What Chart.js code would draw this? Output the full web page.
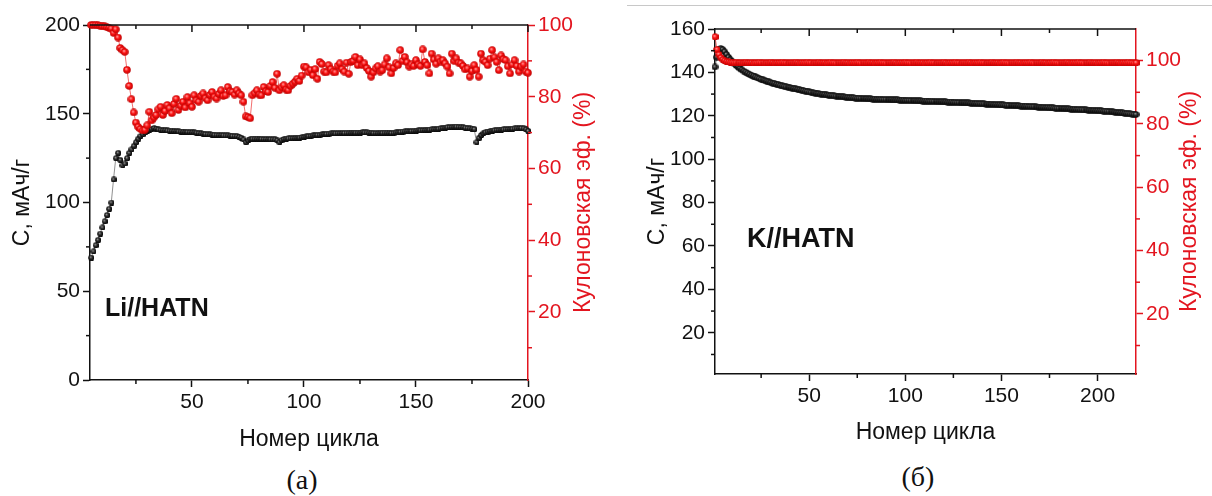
<!DOCTYPE html>
<html><head><meta charset="utf-8">
<script src="https://cdn.jsdelivr.net/npm/chart.js@4"></script>
<style>
html,body{margin:0;padding:0;background:#fff;width:1212px;height:496px;overflow:hidden;position:relative;font-family:'Liberation Sans',Arial,sans-serif}
canvas{position:absolute;top:0}
#cA{left:0}
#cB{left:610px}
.lbl{position:absolute;font-weight:bold;color:#111;white-space:nowrap;line-height:1}
.cap{position:absolute;font-family:'Liberation Serif','Times New Roman',serif;font-size:28px;color:#111;transform:translate(-50%,-50%);line-height:1;white-space:nowrap}
</style></head><body>
<div style="position:absolute;left:627px;top:5px;width:585px;height:1px;background:#c8c8c8"></div>
<canvas id="cA" width="610" height="460"></canvas>
<canvas id="cB" width="602" height="460"></canvas>
<div class="lbl" style="left:105px;top:295px;font-size:25px">Li//HATN</div>
<div class="lbl" style="left:747px;top:225px;font-size:27px">K//HATN</div>
<div class="cap" style="left:302px;top:480px">(а)</div>
<div class="cap" style="left:918px;top:477px">(б)</div>
<script>
// ---------- DATA ----------
// Panel (a) Li//HATN : first cycle shown
const LI_FIRST_CYCLE = 5;
// capacity, mAh/g, cycles 5..200
const LI_CAPACITY = [
 69, 72.5, 76, 79, 82.5, 86, 89.5, 93, 96.5, 100,
 113, 125, 128, 124, 121, 122, 125, 128, 130, 132,
 134, 136, 137.5, 138.5, 139.5, 140.5, 141, 141.5, 142, 141.6,
 141.2, 141, 140.8, 140.8, 140.6, 140.5, 140.4, 140.3, 140.2, 140.1,
 140, 139.9, 139.8, 139.8, 139.7, 139.6, 139.5, 139.4, 139.2, 139,
 138.8, 138.6, 138.5, 138.4, 138.3, 138.2, 138.1, 138, 138, 137.9,
 137.8, 137.8, 137.7, 137.6, 137.5, 137.4, 137, 136.5, 135.5, 134,
 135, 135.8, 136, 136, 136, 135.9, 135.9, 135.8, 135.8, 135.7,
 135.7, 135.6, 135.5, 135, 134, 135.2, 135.8, 136, 136.1, 136.2,
 136.3, 136.4, 136.5, 136.6, 136.8, 137, 137.2, 137.4, 137.6, 137.8,
 138, 138.1, 138.2, 138.4, 138.6, 138.7, 138.8, 138.9, 139, 139,
 139.1, 139.1, 139.2, 139.2, 139.3, 139.3, 139.3, 139.4, 139.4, 139.4,
 139.4, 139.5, 139.5, 139.5, 139.4, 139.3, 139.2, 139.2, 139.2, 139.3,
 139.3, 139.4, 139.4, 139.3, 139.2, 139.3, 139.5, 139.6, 139.8, 140,
 140.1, 140.2, 140.2, 140.3, 140.4, 140.5, 140.6, 140.7, 140.8, 140.9,
 141, 141.1, 141.2, 141.3, 141.4, 141.6, 141.8, 142, 142.2, 142.4,
 142.5, 142.6, 142.7, 142.8, 142.7, 142.6, 142.4, 142.2, 142, 141.8,
 141.6, 141.4, 134, 136.5, 138, 139, 139.6, 140, 140.3, 140.5,
 140.7, 140.9, 141, 141.1, 141.2, 141.3, 141.4, 141.5, 141.6, 141.7,
 141.8, 141.9, 142, 141.8, 141.2, 140.4
];
// coulombic efficiency, %, cycles 5..200
const LI_CE = [
 100, 100, 100, 99.9, 99.8, 99.7, 99.6, 99.4, 99.2, 99.0,
 97.8, 98.8, 96.5, 93.6, 93.0, 92.5, 87.5, 83.0, 79.3, 75.6,
 72.8, 71.6, 71.0, 70.6, 70.8, 72.0, 75.8, 73.4, 74.2, 74.9,
 76.5, 77.2, 74.9, 76.0, 77.7, 76.8, 75.4, 78.0, 79.4, 76.3,
 77.5, 78.6, 77.0, 79.9, 78.2, 77.2, 80.4, 79.0, 78.6, 80.2,
 80.9, 79.6, 79.0, 80.5, 81.3, 80.0, 79.5, 80.8, 81.8, 80.2,
 80.4, 82.7, 81.5, 81.3, 80.6, 81.8, 80.9, 80.4, 78.6, 74.5,
 74.3, 74.0, 80.4, 81.0, 81.8, 80.6, 80.4, 82.7, 81.5, 81.3,
 83.0, 84.1, 82.5, 86.4, 81.8, 82.6, 83.2, 82.0, 81.8, 83.0,
 83.6, 84.2, 85.0, 84.4, 85.9, 88.4, 88.2, 86.8, 87.5, 86.0,
 87.7, 85.0, 89.7, 89.1, 87.0, 86.8, 88.8, 87.7, 87.0, 86.8,
 88.6, 89.3, 87.7, 87.0, 89.5, 86.4, 89.7, 90.0, 91.1, 88.8,
 90.4, 88.8, 89.3, 88.0, 87.2, 85.6, 86.8, 87.9, 88.5, 87.0,
 87.4, 89.0, 90.7, 88.2, 86.5, 88.0, 89.3, 88.8, 93.0, 90.0,
 91.1, 89.6, 88.4, 89.0, 88.6, 90.2, 89.0, 88.6, 93.2, 89.7,
 88.8, 86.5, 92.0, 90.4, 89.2, 90.7, 89.8, 90.2, 89.3, 88.4,
 86.5, 92.0, 90.0, 90.7, 89.5, 89.3, 88.6, 87.6, 87.9, 85.6,
 87.2, 88.8, 87.5, 85.6, 92.0, 90.2, 89.7, 88.8, 90.6, 93.0,
 91.0, 89.7, 87.4, 91.5, 90.5, 90.2, 88.5, 86.5, 89.0, 90.2,
 88.6, 87.0, 88.4, 89.0, 87.0, 86.7
];
const LI_X_TICKS = [50, 100, 150, 200];
const LI_X_MINOR = [25, 75, 125, 175];
const LI_Y_TICKS = [0, 50, 100, 150, 200];
const LI_Y_MINOR = [25, 75, 125, 175];
const LI_Y1_TICKS = [20, 40, 60, 80, 100];
const LI_Y1_MINOR = [10, 30, 50, 70, 90];

// Panel (b) K//HATN
const K_FIRST_CYCLE = 1;
// capacity, mAh/g, cycles 1..220
const K_CAPACITY = [
 142.5, 147, 150.5, 151, 150.5, 149.5, 148.2, 147, 145.8, 144.8,
 144, 143.2, 142.5, 141.8, 141.2, 140.6, 140.1, 139.6, 139.1, 138.7,
 138.3, 137.9, 137.5, 137.2, 136.8, 136.5, 136.2, 135.9, 135.6, 135.3,
 135, 134.8, 134.5, 134.3, 134, 133.8, 133.6, 133.4, 133.2, 133,
 132.8, 132.6, 132.4, 132.2, 132, 131.8, 131.6, 131.4, 131.2, 131,
 130.8, 130.6, 130.5, 130.3, 130.2, 130, 129.9, 129.8, 129.6, 129.5,
 129.4, 129.3, 129.2, 129.1, 129, 128.9, 128.8, 128.7, 128.6, 128.5,
 128.4, 128.3, 128.3, 128.2, 128.1, 128.1, 128, 128, 127.9, 127.9,
 127.8, 127.8, 127.7, 127.7, 127.6, 127.6, 127.6, 127.5, 127.5, 127.5,
 127.4, 127.4, 127.4, 127.3, 127.3, 127.3, 127.2, 127.2, 127.2, 127.1,
 127.1, 127.1, 127, 127, 127, 126.9, 126.9, 126.9, 126.8, 126.8,
 126.8, 126.7, 126.7, 126.7, 126.6, 126.6, 126.5, 126.5, 126.5, 126.4,
 126.4, 126.3, 126.3, 126.3, 126.2, 126.2, 126.1, 126.1, 126, 126,
 126, 125.9, 125.9, 125.8, 125.8, 125.7, 125.7, 125.6, 125.6, 125.5,
 125.5, 125.4, 125.4, 125.3, 125.3, 125.2, 125.2, 125.1, 125.1, 125,
 125, 124.9, 124.9, 124.8, 124.8, 124.7, 124.7, 124.6, 124.6, 124.5,
 124.5, 124.4, 124.4, 124.3, 124.3, 124.2, 124.2, 124.1, 124, 124,
 123.9, 123.9, 123.8, 123.8, 123.7, 123.7, 123.6, 123.5, 123.5, 123.4,
 123.4, 123.3, 123.3, 123.2, 123.2, 123.1, 123, 123, 122.9, 122.9,
 122.8, 122.8, 122.7, 122.7, 122.6, 122.6, 122.5, 122.5, 122.4, 122.4,
 122.3, 122.3, 122.2, 122.2, 122.1, 122, 121.9, 121.8, 121.7, 121.6,
 121.5, 121.4, 121.3, 121.2, 121.1, 121, 120.9, 120.8, 120.7, 120.6
];
// coulombic efficiency, %, cycles 1..220
const K_CE = [
 107.6, 103.6, 102.0, 101.0, 100.4, 100.0, 99.7, 99.6, 99.5, 99.5,
 99.4, 99.5, 99.4, 99.4, 99.3, 99.4, 99.5, 99.4, 99.4, 99.4,
 99.3, 99.4, 99.4, 99.5, 99.4, 99.4, 99.3, 99.4, 99.4, 99.5,
 99.4, 99.3, 99.4, 99.4, 99.4, 99.5, 99.4, 99.4, 99.3, 99.4,
 99.4, 99.4, 99.5, 99.4, 99.3, 99.4, 99.4, 99.4, 99.5, 99.4,
 99.4, 99.3, 99.4, 99.4, 99.5, 99.4, 99.4, 99.4, 99.3, 99.4,
 99.5, 99.4, 99.4, 99.3, 99.4, 99.4, 99.4, 99.5, 99.4, 99.4,
 99.3, 99.4, 99.4, 99.4, 99.5, 99.4, 99.3, 99.4, 99.4, 99.4,
 99.5, 99.4, 99.4, 99.3, 99.4, 99.4, 99.5, 99.4, 99.4, 99.3,
 99.4, 99.4, 99.4, 99.5, 99.4, 99.3, 99.4, 99.4, 99.4, 99.5,
 99.4, 99.4, 99.3, 99.4, 99.4, 99.5, 99.4, 99.4, 99.4, 99.3,
 99.4, 99.4, 99.5, 99.4, 99.4, 99.3, 99.4, 99.4, 99.4, 99.5,
 99.4, 99.3, 99.4, 99.4, 99.4, 99.5, 99.4, 99.4, 99.3, 99.4,
 99.4, 99.4, 99.5, 99.4, 99.3, 99.4, 99.4, 99.4, 99.5, 99.4,
 99.4, 99.3, 99.4, 99.4, 99.5, 99.4, 99.4, 99.4, 99.3, 99.4,
 99.5, 99.4, 99.4, 99.3, 99.4, 99.4, 99.4, 99.5, 99.4, 99.4,
 99.3, 99.4, 99.4, 99.4, 99.5, 99.4, 99.3, 99.4, 99.4, 99.4,
 99.5, 99.4, 99.4, 99.3, 99.4, 99.4, 99.5, 99.4, 99.4, 99.3,
 99.4, 99.4, 99.4, 99.5, 99.4, 99.3, 99.4, 99.4, 99.4, 99.5,
 99.4, 99.4, 99.3, 99.4, 99.4, 99.5, 99.4, 99.4, 99.4, 99.3,
 99.4, 99.4, 99.5, 99.4, 99.4, 99.3, 99.4, 99.4, 99.4, 99.5,
 99.4, 99.3, 99.4, 99.4, 99.4, 99.5, 99.4, 99.4, 99.3, 99.4
];
const K_X_TICKS = [50, 100, 150, 200];
const K_X_MINOR = [25, 75, 125, 175];
const K_Y_TICKS = [20, 40, 60, 80, 100, 120, 140, 160];
const K_Y_MINOR = [10, 30, 50, 70, 90, 110, 130, 150];
const K_Y1_TICKS = [20, 40, 60, 80, 100];
const K_Y1_MINOR = [10, 30, 50, 70, 90];

const X_TITLE = 'Номер цикла';
const Y_TITLE = 'C, мАч/г';
const Y1_TITLE = 'Кулоновская эф. (%)';

// ---------- STYLE ----------
const INK = '#111';
const RED = '#e3151f';
const TICK_FONT = 21;
const TITLE_FONT = 23;
Chart.defaults.font.family = "'Liberation Sans', Arial, sans-serif";

function sphere(d, light, base, dark) {
  const c = document.createElement('canvas');
  c.width = d; c.height = d;
  const g = c.getContext('2d');
  const r = d / 2;
  const grad = g.createRadialGradient(r * 0.75, r * 0.7, 0, r, r, r);
  grad.addColorStop(0, light);
  grad.addColorStop(0.45, base);
  grad.addColorStop(1, dark);
  g.fillStyle = grad;
  g.beginPath(); g.arc(r, r, r - 0.2, 0, Math.PI * 2); g.fill();
  return c;
}

const framePlugin = {
  id: 'frame',
  afterDraw(chart, args, o) {
    const {ctx, chartArea: ca, scales} = chart;
    ctx.save();
    ctx.lineWidth = 1.5;
    ctx.lineCap = 'butt';
    const seg = (x1, y1, x2, y2) => { ctx.beginPath(); ctx.moveTo(x1, y1); ctx.lineTo(x2, y2); ctx.stroke(); };
    ctx.strokeStyle = INK;
    seg(ca.left, ca.top, ca.right, ca.top);
    o.xMajor.forEach(v => { const p = scales.x.getPixelForValue(v); seg(p, ca.top, p, ca.top + 7); });
    o.xMinor.forEach(v => {
      const p = scales.x.getPixelForValue(v);
      seg(p, ca.top, p, ca.top + 4);
      seg(p, ca.bottom, p, ca.bottom + 4);
    });
    o.yMinor.forEach(v => { const p = scales.y.getPixelForValue(v); seg(ca.left - 4, p, ca.left, p); });
    ctx.strokeStyle = RED;
    o.y1Minor.forEach(v => { const p = scales.y1.getPixelForValue(v); seg(ca.right, p, ca.right + 4, p); });
    // right-hand title, reading bottom to top
    ctx.fillStyle = RED;
    ctx.font = TITLE_FONT + "px 'Liberation Sans', Arial, sans-serif";
    ctx.textAlign = 'center';
    ctx.textBaseline = 'middle';
    ctx.translate(o.rtX, (ca.top + ca.bottom) / 2);
    ctx.rotate(-Math.PI / 2);
    ctx.fillText(Y1_TITLE, 0, 0);
    ctx.restore();
  }
};

function axisCommon(color) {
  return {
    grid: {drawOnChartArea: false, drawTicks: true, tickLength: 7, tickWidth: 1.5, tickColor: color},
    border: {display: true, color: color, width: 1.5},
    ticks: {color: color, font: {size: TICK_FONT}, padding: 3, autoSkip: false, maxRotation: 0}
  };
}

function buildChart(id, p) {
  const capPts = p.cap.map((v, i) => ({x: i + p.first, y: v}));
  const cePts = p.ce.map((v, i) => ({x: i + p.first, y: v}));
  const xs = axisCommon(INK), ys = axisCommon(INK), y1s = axisCommon(RED);
  xs.ticks.padding = 3;
  return new Chart(document.getElementById(id), {
    type: 'scatter',
    data: {datasets: [
      {label: 'CE', data: cePts, yAxisID: 'y1', showLine: true, borderColor: 'rgba(235,40,40,0.85)', borderWidth: 0.8,
       pointStyle: sphere(p.redD, '#ffc0c0', '#ff1414', '#b80000'), pointRadius: p.redD / 2, clip: false, order: 0},
      {label: 'C', data: capPts, yAxisID: 'y', showLine: true, borderColor: 'rgba(90,90,90,0.85)', borderWidth: 0.8,
       pointStyle: sphere(p.blkD, '#a8a8a8', '#2a2a2a', '#000'), pointRadius: p.blkD / 2, clip: false, order: 1}
    ]},
    options: {
      responsive: false, animation: false, events: [],
      layout: {padding: {top: p.top, left: 0, right: 0, bottom: 0}},
      plugins: {legend: {display: false}, tooltip: {enabled: false},
        frame: {xMajor: p.xTicks, xMinor: p.xMinor, yMinor: p.yMinor, y1Minor: p.y1Minor, rtX: p.rtX}},
      scales: {
        x: Object.assign(xs, {type: 'linear', position: 'bottom', min: p.xMin, max: p.xMax,
          afterFit: s => { s.height = p.xH; },
          afterBuildTicks: s => { s.ticks = p.xTicks.map(v => ({value: v})); },
          title: {display: true, text: X_TITLE, color: INK, font: {size: TITLE_FONT}, padding: {top: 0, bottom: p.xTitlePad}}}),
        y: Object.assign(ys, {type: 'linear', position: 'left', min: p.yMin, max: p.yMax,
          afterFit: s => { s.width = p.yW; },
          afterBuildTicks: s => { s.ticks = p.yTicks.map(v => ({value: v})); },
          title: {display: true, text: Y_TITLE, color: INK, font: {size: TITLE_FONT}, padding: {top: p.yTitlePad, bottom: 0}}}),
        y1: Object.assign(y1s, {type: 'linear', position: 'right', min: p.y1Min, max: p.y1Max,
          afterFit: s => { s.width = p.y1W; },
          afterBuildTicks: s => { s.ticks = p.y1Ticks.map(v => ({value: v})); }})
      }
    },
    plugins: [framePlugin]
  });
}

buildChart('cA', {
  first: LI_FIRST_CYCLE, cap: LI_CAPACITY, ce: LI_CE,
  xTicks: LI_X_TICKS, xMinor: LI_X_MINOR, yTicks: LI_Y_TICKS, yMinor: LI_Y_MINOR, y1Ticks: LI_Y1_TICKS, y1Minor: LI_Y1_MINOR,
  xMin: 4.5, xMax: 200, yMin: 0, yMax: 200, y1Min: 1, y1Max: 100,
  top: 25, yW: 90, y1W: 82, xH: 80, xTitlePad: 7, yTitlePad: 9, rtX: 584,
  redD: 8, blkD: 6.5
});
buildChart('cB', {
  first: K_FIRST_CYCLE, cap: K_CAPACITY, ce: K_CE,
  xTicks: K_X_TICKS, xMinor: K_X_MINOR, yTicks: K_Y_TICKS, yMinor: K_Y_MINOR, y1Ticks: K_Y1_TICKS, y1Minor: K_Y1_MINOR,
  xMin: 1, xMax: 220, yMin: 1, yMax: 160, y1Min: 1, y1Max: 110,
  top: 29, yW: 105, y1W: 76, xH: 86, xTitlePad: 14, yTitlePad: 34, rtX: 580,
  redD: 7.5, blkD: 7
});
</script>
</body></html>
